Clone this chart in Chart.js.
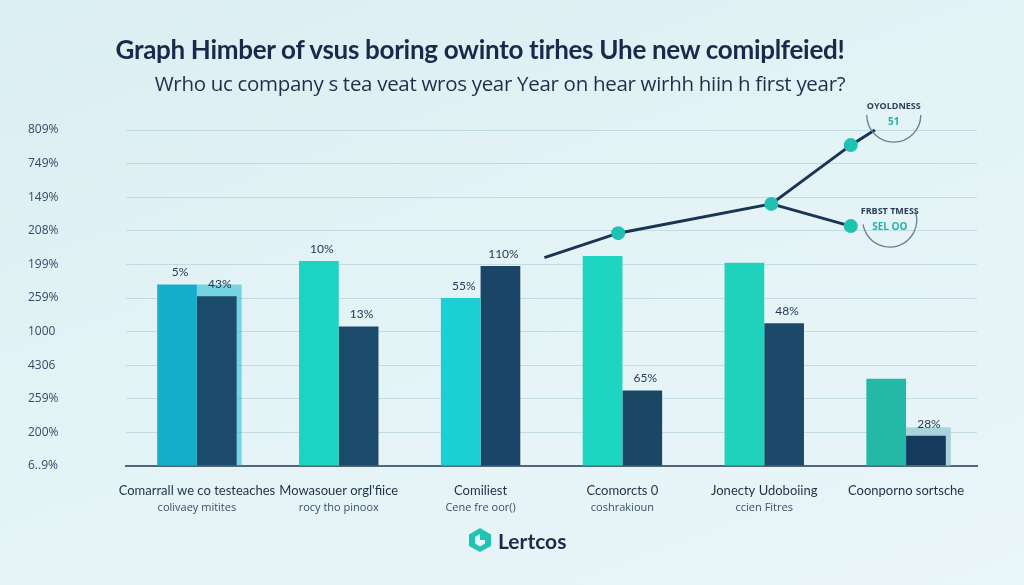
<!DOCTYPE html>
<html>
<head>
<meta charset="utf-8">
<script src="https://cdn.jsdelivr.net/npm/chart.js@4.4.0/dist/chart.umd.min.js"></script>
<style>
  html, body { margin: 0; padding: 0; }
  body {
    width: 1024px; height: 585px; overflow: hidden; position: relative;
    background: linear-gradient(160deg, #dbeef2 0%, #e4f3f6 50%, #eaf6f9 100%);
    font-family: Lato, sans-serif;
  }
  #title {
    position: absolute; top: 33px; left: 480px; transform: translateX(-50%);
    white-space: nowrap; font: 700 26px Lato, sans-serif; color: #172a4a;
    letter-spacing: -0.3px;
  }
  #subtitle {
    position: absolute; top: 69px; left: 500px; transform: translateX(-50%);
    white-space: nowrap; font: 400 20.5px "Open Sans", sans-serif; color: #1e2f4a;
    letter-spacing: -0.3px;
  }
  .box { position: absolute; left: 0; top: 0; width: 1024px; height: 585px; }
  #lineBox { pointer-events: none; }
  #logo {
    position: absolute; top: 527px; left: 467px; display: flex; align-items: center;
    gap: 5px; font: 700 21px Lato, sans-serif; color: #1b2b4b;
  }
</style>
</head>
<body>
<div class="box"><canvas id="canvas"></canvas></div>
<div class="box" id="lineBox"><canvas id="lineCanvas"></canvas></div>
<div id="title">Graph Himber of vsus boring owinto tirhes Uhe new comiplfeied!</div>
<div id="subtitle">Wrho uc company s tea veat wros year Year on hear wirhh hiin h first year?</div>
<div id="logo">
  <svg width="26" height="26" viewBox="0 0 26 26">
    <path d="M13 1 L24 7.5 L24 19 L13 25 L2 19 L2 7.5 Z M13 7 L8 10 L8 16.5 L13 19.5 L18 16.5 L18 13 L13 13 Z" fill="#22c3b2" fill-rule="evenodd"/>
  </svg>
  <span>Lertcos</span>
</div>
<script>
// categories (main line + small second line)
let categories = ['Comarrall we co testeaches', 'Mowasouer orgl\'fiice', 'Comiliest',
                  'Ccomorcts 0', 'Jonecty Udoboiing', 'Coonporno sortsche'];
let subLabels  = ['colivaey mitites', 'rocy tho pinoox', 'Cene fre oor()',
                  'coshrakioun', 'ccien Fitres', ''];

// y axis tick labels, top to bottom
let yTickLabels = ['809%', '749%', '149%', '208%', '199%', '259%',
                   '1000', '4306', '259%', '200%', '6..9%'];

// bar values
let tealValues = [5.4, 6.1, 5.0, 6.25, 6.05, 2.6];
let darkValues = [5.05, 4.15, 5.95, 2.25, 4.25, 0.9];
let tealLabels = ['5%', '10%', '55%', '', '', ''];
let darkLabels = ['43%', '13%', '110%', '65%', '48%', '28%'];

// faded bars sitting behind the dark ones
let backdropValues = [5.4, null, null, null, null, 1.15];

// trend line (x in category units)
let trendX = [2.45, 2.97, 4.05, 4.61, 4.78];
let trendY = [6.2, 6.93, 7.8, 9.55, 10.0];
let branchX = [4.05, 4.61];
let branchY = [7.8, 7.14];

// callouts next to the line ends
let calloutTitles = ['OYOLDNESS', 'FRBST TMESS'];
let calloutValues = ['51', 'SEL OO'];

let navy = '#1a3553';

// both charts share the same plot area
let padLeft = 28, axisWidth = 98, padRight = 47, padTop = 130, axisHeight = 119;

function pts(xs, ys) {
  let out = [];
  for (let i = 0; i < xs.length; i++) out.push({x: xs[i], y: ys[i]});
  return out;
}

// faded bars behind the dark ones
let backdropPlugin = {
  id: 'backdrop',
  beforeDatasetsDraw(chart) {
    let ctx = chart.ctx;
    let meta = chart.getDatasetMeta(1);
    let y = chart.scales.y;
    let colors = ['rgba(30,185,205,0.55)', null, null, null, null, '#a8d3dc'];
    ctx.save();
    for (let i = 0; i < backdropValues.length; i++) {
      if (backdropValues[i] == null) continue;
      let el = meta.data[i];
      let top = y.getPixelForValue(backdropValues[i]);
      ctx.fillStyle = colors[i];
      ctx.fillRect(el.x - el.width / 2, top, el.width + 5, el.base - top);
    }
    ctx.restore();
  }
};

// value labels over the bars and sub labels under categories
let barTextPlugin = {
  id: 'barTexts',
  afterDatasetsDraw(chart) {
    let ctx = chart.ctx;
    ctx.save();
    ctx.font = '12px Lato, sans-serif';
    ctx.fillStyle = '#243858';
    ctx.textAlign = 'center';
    ctx.textBaseline = 'bottom';
    let sets = [[0, tealLabels], [1, darkLabels]];
    for (let s of sets) {
      let meta = chart.getDatasetMeta(s[0]);
      meta.data.forEach((el, i) => {
        if (s[1][i]) ctx.fillText(s[1][i], el.x + 3, el.y - 6);
      });
    }
    let x = chart.scales.x;
    ctx.font = '11px "Open Sans", sans-serif';
    ctx.fillStyle = '#3a4e66';
    ctx.textBaseline = 'middle';
    subLabels.forEach((t, i) => {
      ctx.fillText(t, x.getPixelForValue(i), x.top + 42);
    });
    ctx.restore();
  }
};

// circles with small texts next to the line ends
let calloutPlugin = {
  id: 'callouts',
  afterDatasetsDraw(chart) {
    let ctx = chart.ctx;
    ctx.save();
    ctx.textAlign = 'center';
    ctx.textBaseline = 'middle';
    let anchors = [
      [chart.getDatasetMeta(0).data[3], 43, -30, 0, Math.PI],
      [chart.getDatasetMeta(1).data[1], 39, -6, -0.1 * Math.PI, 0.95 * Math.PI]
    ];
    anchors.forEach((a, i) => {
      let cx = a[0].x + a[1], cy = a[0].y + a[2];
      ctx.strokeStyle = '#6b7f90';
      ctx.lineWidth = 1.3;
      ctx.beginPath();
      ctx.arc(cx, cy, 27, a[3], a[4]);
      ctx.stroke();
      ctx.font = 'bold 9px "Open Sans", sans-serif';
      ctx.fillStyle = '#2a3d5a';
      ctx.fillText(calloutTitles[i], cx, cy - 9);
      ctx.font = 'bold 10px "Open Sans", sans-serif';
      ctx.fillStyle = '#22b3a8';
      ctx.fillText(calloutValues[i], cx, cy + 7);
    });
    ctx.restore();
  }
};

let barOptions = {
  type: 'bar',
  data: {
    labels: categories,
    datasets: [
      {
        label: 'teal',
        data: tealValues,
        backgroundColor: ['#17aecb', '#1dd3c1', '#1ccfd2', '#1dd5c0', '#1fd2bc', '#24b8a6'],
        categoryPercentage: 0.56,
        barPercentage: 1.0
      },
      {
        label: 'dark',
        data: darkValues,
        backgroundColor: ['#1c4a6b', '#1c4a6a', '#1b4566', '#1b4767', '#1c4869', '#163a5c'],
        categoryPercentage: 0.56,
        barPercentage: 1.0
      }
    ]
  },
  options: {
    responsive: true,
    maintainAspectRatio: false,
    animation: false,
    layout: { padding: { top: padTop, right: padRight, left: padLeft, bottom: 0 } },
    plugins: {
      legend: { display: false },
      tooltip: { enabled: false }
    },
    scales: {
      x: {
        grid: { display: false },
        border: { color: '#51687a', width: 2 },
        ticks: {
          color: '#1f3048',
          font: { family: 'Lato, sans-serif', size: 13 },
          padding: 9,
          maxRotation: 0,
          autoSkip: false
        },
        afterFit(scale) { scale.height = axisHeight; }
      },
      y: {
        min: 0,
        max: 10,
        grid: { color: 'rgba(168,200,212,0.55)', drawTicks: false },
        border: { display: false },
        ticks: {
          stepSize: 1,
          crossAlign: 'far',
          color: '#34496a',
          font: { family: '"Open Sans", sans-serif', size: 12 },
          callback: function(v) { return yTickLabels[10 - v]; }
        },
        afterFit(scale) { scale.width = axisWidth; }
      }
    }
  },
  plugins: [backdropPlugin, barTextPlugin]
};

// the trend line sits on a second, transparent chart with the same plot area
let lineOptions = {
  type: 'line',
  data: {
    datasets: [
      {
        label: 'trend',
        data: pts(trendX, trendY),
        borderColor: navy,
        borderWidth: 3,
        pointRadius: [0, 7, 7, 7, 0],
        pointBackgroundColor: '#1fc2b2',
        pointBorderWidth: 0,
        clip: false
      },
      {
        label: 'branch',
        data: pts(branchX, branchY),
        borderColor: navy,
        borderWidth: 3,
        pointRadius: [0, 7],
        pointBackgroundColor: '#1fc2b2',
        pointBorderWidth: 0,
        clip: false
      }
    ]
  },
  options: {
    responsive: true,
    maintainAspectRatio: false,
    animation: false,
    layout: { padding: { top: padTop, right: padRight, left: padLeft + axisWidth, bottom: axisHeight } },
    plugins: {
      legend: { display: false },
      tooltip: { enabled: false }
    },
    scales: {
      x: { type: 'linear', display: false, min: -0.5, max: 5.5 },
      y: { display: false, min: 0, max: 10 }
    }
  },
  plugins: [calloutPlugin]
};

let barChart = new Chart(document.getElementById('canvas'), barOptions);
let lineChart = new Chart(document.getElementById('lineCanvas'), lineOptions);
</script>
</body>
</html>
